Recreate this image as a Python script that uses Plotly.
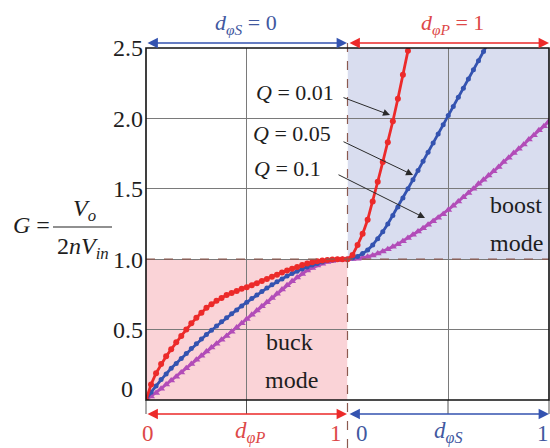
import plotly.graph_objects as go

# ---------------- data ----------------
# phase-shift ratio sampled in steps of 0.025
d_grid = [0.0, 0.025, 0.05, 0.075, 0.1, 0.125, 0.15, 0.175, 0.2, 0.225,
          0.25, 0.275, 0.3, 0.325, 0.35, 0.375, 0.4, 0.425, 0.45, 0.475,
          0.5, 0.525, 0.55, 0.575, 0.6, 0.625, 0.65, 0.675, 0.7, 0.725,
          0.75, 0.775, 0.8, 0.825, 0.85, 0.875, 0.9, 0.925, 0.95, 0.975, 1.0]

# buck mode (d_phiS = 0, d_phiP swept 0..1)
g_buck_q001 = [0.0, 0.11, 0.19, 0.255, 0.31, 0.36, 0.41, 0.455, 0.5, 0.545,
               0.585, 0.62, 0.655, 0.68, 0.705, 0.725, 0.745, 0.76, 0.775, 0.79,
               0.8, 0.815, 0.83, 0.845, 0.86, 0.875, 0.89, 0.905, 0.92, 0.933,
               0.945, 0.958, 0.97, 0.978, 0.985, 0.99, 0.995, 0.998, 1.0, 1.0, 1.0]
g_buck_q005 = [0.0, 0.055, 0.1, 0.145, 0.185, 0.225, 0.26, 0.295, 0.33, 0.365,
               0.4, 0.433, 0.465, 0.495, 0.525, 0.555, 0.585, 0.613, 0.64, 0.668,
               0.695, 0.72, 0.745, 0.77, 0.795, 0.818, 0.84, 0.86, 0.88, 0.898,
               0.915, 0.93, 0.945, 0.958, 0.97, 0.98, 0.99, 0.994, 0.997, 0.999, 1.0]
g_buck_q01 = [0.0, 0.025, 0.05, 0.08, 0.11, 0.138, 0.165, 0.195, 0.225, 0.255,
              0.285, 0.315, 0.345, 0.373, 0.4, 0.428, 0.455, 0.485, 0.515, 0.545,
              0.575, 0.605, 0.635, 0.665, 0.695, 0.725, 0.755, 0.785, 0.815, 0.843,
              0.87, 0.895, 0.92, 0.938, 0.955, 0.968, 0.98, 0.988, 0.995, 0.998, 1.0]

# boost mode (d_phiP = 1, d_phiS swept 0..1)
g_boost_q001 = [1.0, 1.03, 1.1, 1.18, 1.28, 1.41, 1.55, 1.69, 1.83, 1.98,
                2.14, 2.31, 2.48, 2.65]
g_boost_q005 = [1.0, 1.008, 1.02, 1.04, 1.065, 1.1, 1.145, 1.195, 1.25, 1.31,
                1.37, 1.435, 1.5, 1.565, 1.63, 1.695, 1.76, 1.825, 1.89, 1.955,
                2.02, 2.085, 2.15, 2.215, 2.28, 2.345, 2.41, 2.475, 2.54]
g_boost_q01 = [1.0, 1.001, 1.004, 1.01, 1.017, 1.027, 1.04, 1.055, 1.07, 1.088,
               1.107, 1.128, 1.15, 1.173, 1.197, 1.22, 1.245, 1.27, 1.295, 1.32,
               1.35, 1.38, 1.41, 1.44, 1.47, 1.5, 1.535, 1.565, 1.595, 1.625,
               1.655, 1.69, 1.72, 1.755, 1.785, 1.815, 1.85, 1.88, 1.915, 1.945, 1.98]

q_labels = ["Q = 0.01", "Q = 0.05", "Q = 0.1"]
y_ticks = [0.5, 1.0, 1.5, 2.0, 2.5]
y_ticktext = ["0.5", "1.0", "1.5", "2.0", "2.5"]

# ---------------- styling ----------------
RED = "#ec2a2a"
BLUE = "#3453b0"
PURPLE = "#b24cb8"
TXT_RED = "#dd4848"
TXT_BLUE = "#41589f"
SERIF = "Liberation Serif"

W, H = 550, 448
ML, MR, MT, MB = 146, 1, 48, 48
PW, PH = W - ML - MR, H - MT - MB


def px(xp):
    return (xp - ML) / PW


def py(yp):
    return (H - MB - yp) / PH


series = [
    ("Q=0.1", PURPLE, "triangle-up", 7, g_buck_q01, g_boost_q01),
    ("Q=0.05", BLUE, "circle", 5, g_buck_q005, g_boost_q005),
    ("Q=0.01", RED, "circle", 6, g_buck_q001, g_boost_q001),
]

fig = go.Figure()
for name, col, sym, size, gb, gs in series:
    fig.add_trace(go.Scatter(
        x=d_grid[:len(gb)], y=gb, xaxis="x", yaxis="y", mode="lines+markers",
        line=dict(color=col, width=2.8), marker=dict(color=col, symbol=sym, size=size),
        name=name, showlegend=False))
    fig.add_trace(go.Scatter(
        x=d_grid[:len(gs)], y=gs, xaxis="x2", yaxis="y", mode="lines+markers",
        line=dict(color=col, width=2.8), marker=dict(color=col, symbol=sym, size=size),
        name=name, showlegend=False))

grid_col = "#7a7a7a"
axis_common = dict(range=[0, 1], tickvals=[0.5], showticklabels=False, ticks="",
                   showgrid=True, gridcolor=grid_col, gridwidth=1, zeroline=False,
                   showline=False, fixedrange=True)

fig.update_layout(
    width=W, height=H, margin=dict(l=ML, r=MR, t=MT, b=MB),
    paper_bgcolor="white", plot_bgcolor="white",
    font=dict(family=SERIF),
    xaxis=dict(domain=[0, 0.5], anchor="y", **axis_common),
    xaxis2=dict(domain=[0.5, 1], anchor="y", **axis_common),
    yaxis=dict(range=[0, 2.5], tickvals=y_ticks, ticktext=y_ticktext, ticks="",
               showgrid=True, gridcolor=grid_col, gridwidth=1, zeroline=False,
               showline=False, tickfont=dict(family=SERIF, size=24, color="#1e1e1e"),
               ticklabelstandoff=2, fixedrange=True),
    showlegend=False,
)

shapes = []
# shaded operating regions
shapes.append(dict(type="rect", xref="x", yref="y", x0=0, x1=1, y0=0, y1=1,
                   fillcolor="#fad3d7", line=dict(width=0), layer="below"))
shapes.append(dict(type="rect", xref="x2", yref="y", x0=0, x1=1, y0=1, y1=2.5,
                   fillcolor="#d9ddef", line=dict(width=0), layer="below"))
# dashed borders at G = 1 and at the buck/boost boundary
shapes.append(dict(type="line", xref="paper", yref="y", x0=0, x1=1, y0=1, y1=1,
                   line=dict(color="#8c5a50", width=1.2, dash="dash")))
shapes.append(dict(type="line", xref="paper", yref="paper", x0=0.5, x1=0.5,
                   y0=py(448), y1=py(38),
                   line=dict(color="#8c5a50", width=1.2, dash="dash")))
# grid extensions down to the lower arrows
for xp in [146, 246.5, 448, 549]:
    shapes.append(dict(type="line", xref="paper", yref="paper", x0=px(xp), x1=px(xp),
                       y0=py(414), y1=0, line=dict(color="#555", width=1)))
# plot frame
shapes.append(dict(type="rect", xref="paper", yref="paper", x0=0, x1=1, y0=0, y1=1,
                   line=dict(color="#111", width=1.6)))
# fraction bar of the gain label
shapes.append(dict(type="line", xref="paper", yref="paper", x0=px(53), x1=px(112),
                   y0=py(227), y1=py(227), line=dict(color="#222", width=1.2)))

ann = []


def text(t, xp, yp, size=22, color="#1e1e1e", xanchor="center"):
    ann.append(dict(text=t, x=px(xp), y=py(yp), xref="paper", yref="paper",
                    showarrow=False, xanchor=xanchor, yanchor="middle",
                    font=dict(family=SERIF, size=size, color=color)))


def double_arrow(x_from, x_to, yp, color):
    ann.append(dict(text="", x=px(x_to), y=py(yp), xref="paper", yref="paper",
                    ax=x_from - x_to, ay=0, axref="pixel", ayref="pixel",
                    showarrow=True, arrowside="end+start", arrowhead=2, startarrowhead=2,
                    arrowsize=1.3, startarrowsize=1.3, arrowwidth=1.6, arrowcolor=color))


def pointer(x_tail, y_tail, x_head, y_head):
    ann.append(dict(text="", x=px(x_head), y=py(y_head), xref="paper", yref="paper",
                    ax=x_tail - x_head, ay=y_tail - y_head, axref="pixel", ayref="pixel",
                    showarrow=True, arrowhead=2, arrowsize=1.4, arrowwidth=1,
                    arrowcolor="#2a2a2a"))


# top: duty-ratio conditions of each half
double_arrow(146, 347, 43, BLUE)
double_arrow(348, 549, 43, RED)
text("<i>d</i><sub><i>φS</i></sub> = 0", 246, 24, 22, TXT_BLUE)
text("<i>d</i><sub><i>φP</i></sub> = 1", 452, 24, 22, TXT_RED)

# bottom: sweep axes of each half
double_arrow(146, 347, 414, RED)
double_arrow(348, 549, 414, BLUE)
text("0", 148, 433, 23, TXT_RED)
text("<i>d</i><sub><i>φP</i></sub>", 250, 432, 23, TXT_RED)
text("1", 336, 433, 23, TXT_RED)
text("0", 362, 433, 23, TXT_BLUE)
text("<i>d</i><sub><i>φS</i></sub>", 448, 432, 23, TXT_BLUE)
text("1", 543, 433, 23, TXT_BLUE)

# y-axis zero label and gain definition
text("0", 135, 389, 24, xanchor="right")
text("<i>G</i> =", 31, 225, 24)
text("<i>V</i><sub><i>o</i></sub>", 84, 210, 24)
text("2<i>nV</i><sub><i>in</i></sub>", 83, 248, 24)

# region names
text("buck", 289, 342, 24)
text("mode", 291, 380, 24)
text("boost", 516, 205, 24)
text("mode", 516, 243, 24)

# quality-factor labels with pointers
for lab, (xp, yp) in zip(q_labels, [(295, 93), (292, 133), (287, 168)]):
    text("<i>Q</i>" + lab[1:], xp, yp, 22)
pointer(342, 97, 390, 115)
pointer(342, 141, 413, 175)
pointer(337, 174, 425, 218)

fig.update_layout(shapes=shapes, annotations=ann)
fig.write_html("out.html")
